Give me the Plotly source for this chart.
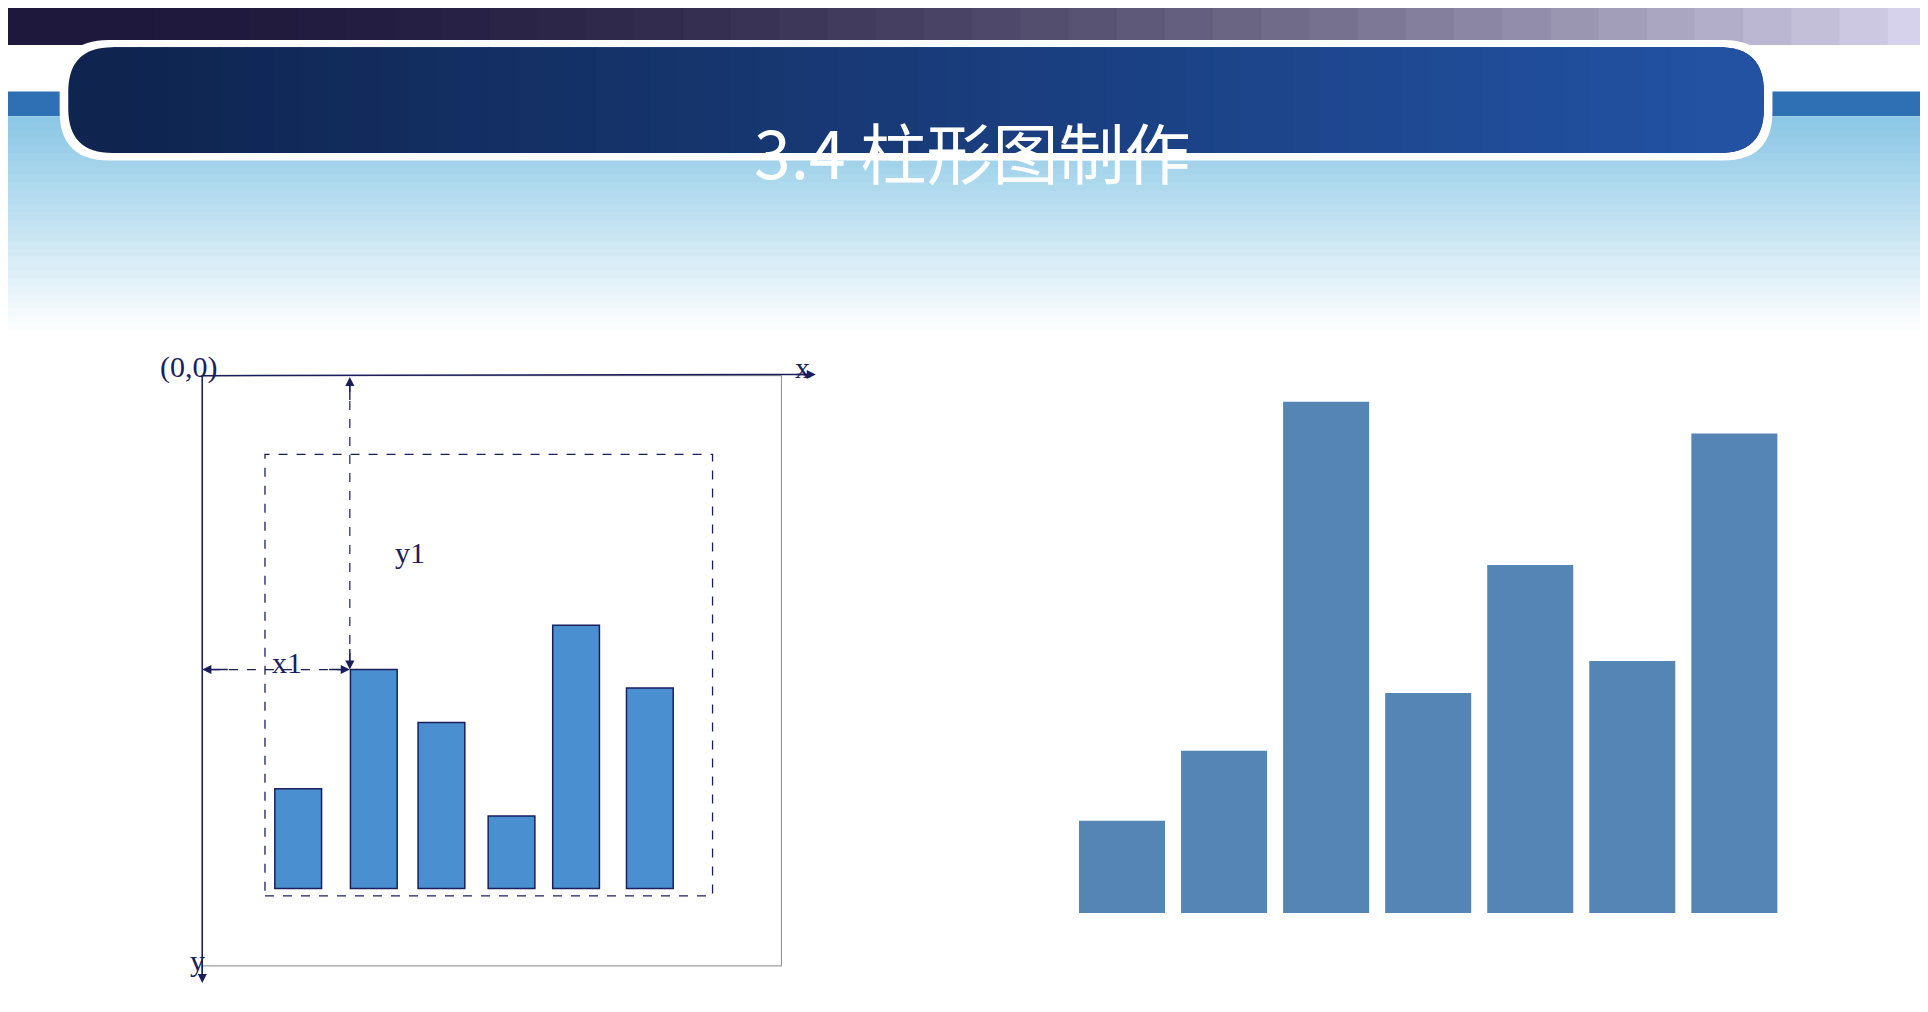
import plotly.graph_objects as go

# right chart values
right_vals = [75, 132, 416, 179, 283, 205, 390]
right_cats = list(range(7))
# left schematic bars (heights and centers in sketch units)
left_vals = [81, 178, 135, 59, 214, 163]
left_pos = [236, 297.5, 352.5, 409.5, 462, 522]
title = "3.4 柱形图制作"

W, H = 1568.0, 823.0
def px(x): return x / W
def py(y): return 1 - y / H

def mix(c1, c2, t):
    return "rgb(%d,%d,%d)" % tuple(int(a + (b - a) * t) for a, b in zip(c1, c2))

shapes = []
# top strip
for i in range(40):
    t = i / 39
    shapes.append(dict(type="rect", xref="paper", yref="paper", x0=px(i * W / 40), x1=px((i + 1) * W / 40 + 1),
                       y0=py(30), y1=1, line_width=0, fillcolor=mix((30, 25, 60), (215, 210, 235), t ** 2), layer="below"))
# light blue band behind header
shapes.append(dict(type="rect", xref="paper", yref="paper", x0=0, x1=1, y0=py(88), y1=py(68),
                   line_width=0, fillcolor="#2f6fb3", layer="below"))
# soft gradient below header
for i in range(30):
    t = i / 29
    y0 = 88 + i * 6
    shapes.append(dict(type="rect", xref="paper", yref="paper", x0=0, x1=1, y0=py(y0 + 7), y1=py(y0),
                       line_width=0, fillcolor=mix((140, 200, 230), (255, 255, 255), t), layer="below"))

def rpath(x0, y0, x1, y1, r):
    return ("M %f,%f L %f,%f Q %f,%f %f,%f L %f,%f Q %f,%f %f,%f L %f,%f Q %f,%f %f,%f L %f,%f Q %f,%f %f,%f Z" % (
        px(x0 + r), py(y0), px(x1 - r), py(y0), px(x1), py(y0), px(x1), py(y0 + r),
        px(x1), py(y1 - r), px(x1), py(y1), px(x1 - r), py(y1),
        px(x0 + r), py(y1), px(x0), py(y1), px(x0), py(y1 - r),
        px(x0), py(y0 + r), px(x0), py(y0), px(x0 + r), py(y0)))

shapes.append(dict(type="path", xref="paper", yref="paper", path=rpath(42, 26, 1435, 124, 40),
                   fillcolor="white", line_width=0))
shapes.append(dict(type="path", xref="paper", yref="paper", path=rpath(49, 32, 1428, 118, 36),
                   fillcolor="#0f2550", line_width=0))
shapes.append(dict(type="path", xref="paper", yref="paper", path=rpath(700, 32, 1428, 118, 36),
                   fillcolor="#2352a3", line_width=0))
n = 60
for i in range(n):
    x0 = 85 + i * (1310 / n)
    shapes.append(dict(type="rect", xref="paper", yref="paper", x0=px(x0), x1=px(x0 + 1310 / n + 1),
                       y0=py(118), y1=py(32), line_width=0, fillcolor=mix((15, 37, 80), (35, 82, 163), i / (n - 1))))

navy = "#1a1f5c"
def ln(x0, y0, x1, y1, color=navy, w=1.5, dash="solid"):
    shapes.append(dict(type="line", xref="paper", yref="paper", x0=px(x0), y0=py(y0), x1=px(x1), y1=py(y1),
                       line=dict(color=color, width=w, dash=dash)))

# left schematic frame
shapes.append(dict(type="rect", xref="paper", yref="paper", x0=px(158), x1=px(629), y0=py(779), y1=py(299),
                   line=dict(color="#888888", width=1)))
shapes.append(dict(type="rect", xref="paper", yref="paper", x0=px(209), x1=px(573), y0=py(722), y1=py(363),
                   line=dict(color=navy, width=1.3, dash="dash")))
ln(158, 299, 655, 298)
ln(158, 299, 158, 790)
ln(278, 305, 278, 532, dash="dash", w=1.2)
ln(165, 538, 272, 538, dash="dash", w=1.2)

ann = [dict(text=title, x=0.5, y=py(75), xref="paper", yref="paper", showarrow=False,
            font=dict(family="Noto Sans CJK SC", size=66, color="white"))]
serif = dict(family="Liberation Serif", size=30, color=navy)
for t, x, y in [("(0,0)", 122, 292), ("x", 646, 292), ("y", 146, 790), ("y1", 313, 443), ("x1", 213, 532)]:
    ann.append(dict(text=t, x=px(x), y=py(y), xref="paper", yref="paper", showarrow=False, font=serif))
# arrowheads (in the sketch axes x2/y2, which span the whole page)
for ax, ay, x, y in [(640, 298, 657, 298), (158, 770, 158, 793), (278, 320, 278, 300), (278, 520, 278, 538),
                     (180, 538, 158, 538), (260, 538, 278, 538)]:
    ann.append(dict(x=x, y=H - y, ax=ax, ay=H - ay, xref="x2", yref="y2", axref="x2", ayref="y2",
                    showarrow=True, arrowhead=2, arrowsize=1.3, arrowwidth=1.4, arrowcolor=navy, text=""))

fig = go.Figure()
fig.add_trace(go.Bar(x=right_cats, y=right_vals, marker_color="#5585b5", marker_line_width=0, width=0.843,
                     xaxis="x", yaxis="y"))
fig.add_trace(go.Bar(x=left_pos, y=left_vals, base=107, width=38, marker_color="#4a8fcf",
                     marker_line=dict(color=navy, width=1.5), xaxis="x2", yaxis="y2"))

fig.update_layout(
    width=1928, height=1012, margin=dict(l=0, r=0, t=0, b=0), showlegend=False,
    paper_bgcolor="white", plot_bgcolor="rgba(0,0,0,0)", shapes=shapes, annotations=ann,
    xaxis=dict(domain=[px(864.5), px(1445.5)], range=[-0.5, 6.5], visible=False),
    yaxis=dict(domain=[py(736), py(320)], range=[0, 416], visible=False),
    xaxis2=dict(domain=[0, 1], range=[0, W], visible=False, anchor="y2"),
    yaxis2=dict(domain=[0, 1], range=[0, H], visible=False, anchor="x2"),
)
fig.write_html("out.html")
